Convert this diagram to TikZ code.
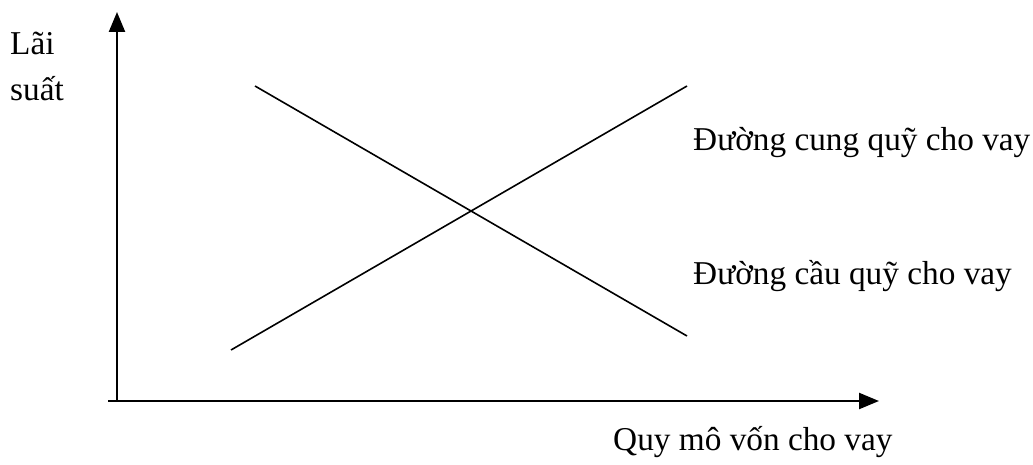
\documentclass[tikz,border=0pt]{standalone}
\usepackage{fontspec}
\setmainfont{Liberation Serif}
\usetikzlibrary{arrows.meta}
\begin{document}
\begin{tikzpicture}[x=1pt,y=-1pt,
  lbl/.style={anchor=base west,inner sep=0pt,font=\fontsize{33.3}{38}\selectfont},
  axis/.style={line width=2.3pt,-{Triangle[length=20pt,width=16pt]}},
  curve/.style={line width=1.6pt}]
\useasboundingbox (0,0) rectangle (1033,465);
\coordinate (o) at (117,401);
\coordinate (ytip) at (117,12);
\coordinate (xs) at (108,401);
\coordinate (xtip) at (879,401);
\draw[axis] (o) -- (ytip);
\draw[axis] (xs) -- (xtip);
\coordinate (s1) at (231,350);
\coordinate (s2) at (687,86);
\coordinate (d1) at (255,86);
\coordinate (d2) at (687,336);
\draw[curve] (s1) -- (s2);
\draw[curve] (d1) -- (d2);
\node[lbl] (ylab1) at (10,55) {Lãi};
\node[lbl] (ylab2) at (10,101) {suất};
\node[lbl] (sup) at (693,151) {Đường cung quỹ cho vay};
\node[lbl] (dem) at (693,284) {Đường cầu quỹ cho vay};
\node[lbl] (xlab) at (613,450) {Quy mô vốn cho vay};
\end{tikzpicture}
\end{document}
